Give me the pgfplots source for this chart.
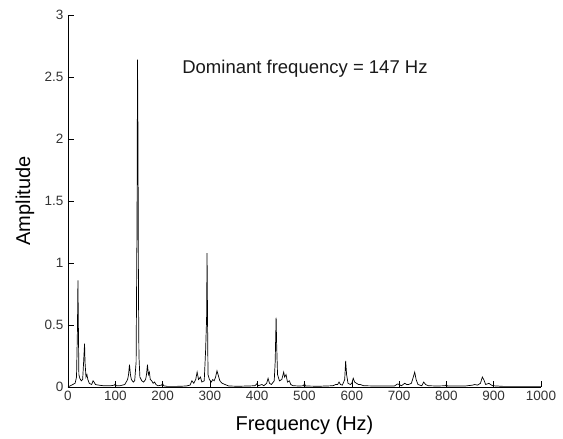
\documentclass[border=0pt]{standalone}
\usepackage{pgfplots}
\pgfplotsset{compat=1.18}
\usepackage{fontspec}
\setmainfont{Liberation Sans}
\begin{document}
\begin{tikzpicture}
\begin{axis}[
  scale only axis,
  width=473pt, height=372pt,
  xmin=0, xmax=1000, ymin=0, ymax=3,
  axis x line*=bottom, axis y line*=left,
  axis line style={-, black, line width=0.7pt},
  xtick={0,100,...,1000},
  xticklabels={0,100,200,300,400,500,600,700,800,900,1000},
  ytick={0,0.5,1,1.5,2,2.5,3},
  yticklabels={0,0.5,1,1.5,2,2.5,3},
  tick align=inside,
  major tick length=6pt,
  tick style={black, line width=0.6pt},
  /pgf/number format/assume math mode=true,
  tick label style={font=\fontsize{13.5}{15}\selectfont, text=black!80},
  xticklabel style={yshift=-1pt},
  yticklabel style={xshift=-1pt},
  xlabel={Frequency (Hz)},
  ylabel={Amplitude},
  every axis x label/.style={at={(axis description cs:0.5,-0.102)}, anchor=center, font=\fontsize{20}{22}\selectfont},
  every axis y label/.style={at={(axis description cs:-0.0909,0.5)}, rotate=90, anchor=center, font=\fontsize{20}{22}\selectfont},
  clip=false,
]
\addplot[black, line width=0.7pt] coordinates {
(0,0) (5,0.01) (10,0.02) (15,0.03) (18,0.08) (20,0.47) (21,0.86) (22,0.47) (23,0.1)
(25,0.07) (28,0.05) (31,0.06) (33,0.2) (35,0.35) (36,0.2) (38,0.08) (40,0.1) (42,0.06)
(45,0.03) (50,0.02) (53,0.05) (55,0.04) (58,0.02) (65,0.015) (75,0.01) (90,0.01)
(98,0.015) (100,0.025) (102,0.01) (110,0.01) (120,0.02) (126,0.06) (128,0.1) (130,0.18)
(132,0.1) (134,0.06) (138,0.04) (141,0.05) (144,0.2) (146,1.38) (147,2.64) (148,2.0)
(149,0.75) (150,0.25) (152,0.08) (156,0.05) (160,0.04) (164,0.06) (166,0.1) (168,0.18)
(170,0.1) (172,0.12) (174,0.06) (177,0.05) (180,0.03) (183,0.04) (186,0.02) (190,0.01)
(198,0.015) (200,0.03) (202,0.01) (210,0.005) (230,0.005) (250,0.008) (258,0.015)
(262,0.05) (266,0.03) (270,0.06) (273,0.12) (276,0.06) (280,0.08) (283,0.04) (288,0.05)
(291,0.3) (293,0.55) (294,1.08) (295,0.55) (296,0.1) (299,0.06) (303,0.04) (306,0.06)
(309,0.05) (312,0.08) (315,0.13) (318,0.09) (321,0.05) (326,0.03) (332,0.02) (340,0.008)
(360,0.006) (380,0.008) (395,0.01) (398,0.02) (400,0.03) (402,0.01) (410,0.02) (414,0.01)
(420,0.03) (423,0.07) (426,0.03) (430,0.02) (436,0.05) (438,0.2) (440,0.56) (441,0.36)
(443,0.1) (447,0.05) (452,0.06) (456,0.12) (458,0.08) (461,0.1) (464,0.04) (468,0.05)
(471,0.02) (476,0.01) (490,0.008) (498,0.01) (500,0.03) (502,0.008) (530,0.006)
(560,0.01) (566,0.02) (570,0.02) (573,0.04) (576,0.02) (580,0.015) (585,0.06) (587,0.21)
(589,0.1) (592,0.03) (597,0.02) (600,0.03) (603,0.07) (606,0.04) (610,0.03) (614,0.02)
(618,0.02) (625,0.01) (650,0.008) (690,0.008) (697,0.025) (700,0.02) (705,0.01)
(712,0.03) (716,0.02) (720,0.02) (726,0.03) (730,0.08) (733,0.12) (736,0.06) (740,0.02)
(748,0.01) (752,0.04) (756,0.02) (762,0.01) (780,0.008) (798,0.01) (800,0.02) (802,0.008)
(840,0.008) (855,0.015) (860,0.02) (866,0.015) (872,0.03) (876,0.08) (879,0.06)
(883,0.02) (890,0.03) (893,0.02) (898,0.01) (920,0.005) (1000,0.005)
};
\node[font=\fontsize{18.5}{20}\selectfont, text=black!90] at (axis cs:501,2.57) {Dominant frequency = 147 Hz};
\coordinate (sw) at (rel axis cs:0,0);
\coordinate (ne) at (rel axis cs:1,1);
\end{axis}
\pgfresetboundingbox
\path ([xshift=-68pt,yshift=-52pt]sw) rectangle ([xshift=22pt,yshift=15pt]ne);
\end{tikzpicture}
\end{document}
